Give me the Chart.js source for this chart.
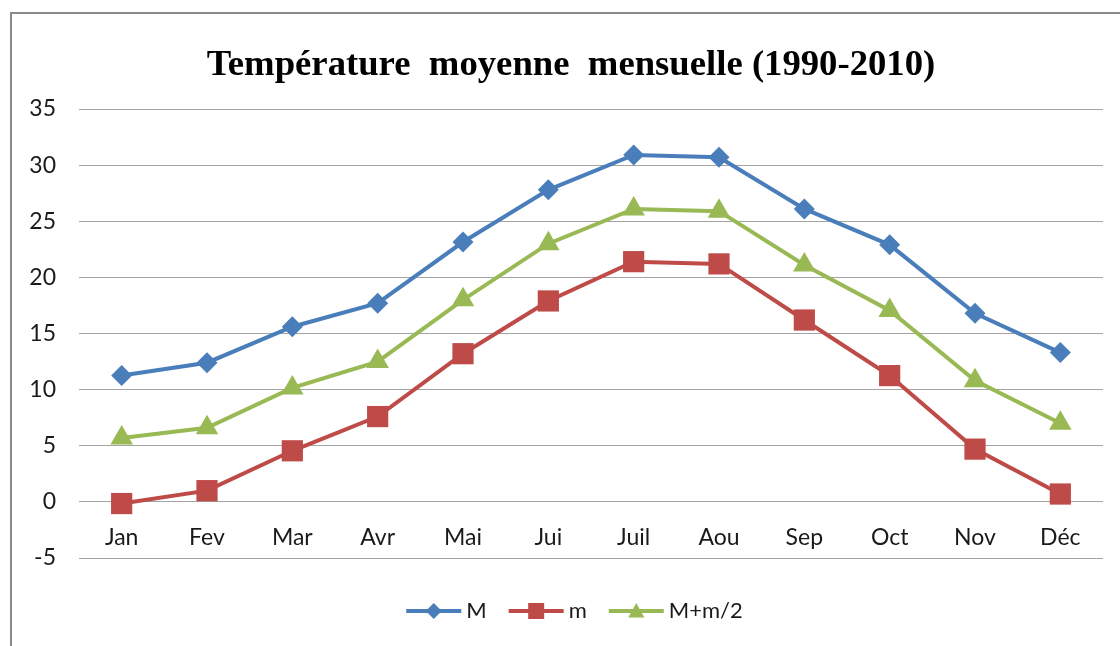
<!DOCTYPE html>
<html>
<head>
<meta charset="utf-8">
<script src="https://cdn.jsdelivr.net/npm/chart.js@4"></script>
<style>
  html, body { margin: 0; padding: 0; background: #fff; }
</style>
</head>
<body>
<canvas id="TempChart" width="1120" height="646"></canvas>
<script>
var mois = ['Jan', 'Fev', 'Mar', 'Avr', 'Mai', 'Jui', 'Juil', 'Aou', 'Sep', 'Oct', 'Nov', 'Déc'];
var tempMax = [11.25, 12.4, 15.6, 17.7, 23.15, 27.8, 30.9, 30.7, 26.1, 22.9, 16.8, 13.3];
var tempMin = [-0.15, 1.0, 4.55, 7.6, 13.2, 17.9, 21.4, 21.2, 16.2, 11.25, 4.7, 0.7];
var tempMoy = [5.7, 6.6, 10.15, 12.5, 18.0, 23.0, 26.1, 25.9, 21.1, 17.05, 10.8, 7.0];
var yMin = -5, yMax = 35, yStep = 5;
var titre = 'Température  moyenne  mensuelle (1990-2010)';

var fontTicks = 'Lato, "Open Sans", sans-serif';

// cadre gris + titre (centré comme dans Excel, pas sur la zone du canvas)
var cadre = {
  id: 'cadre',
  beforeDraw: function(chart) {
    var ctx = chart.ctx;
    ctx.save();
    ctx.fillStyle = '#fff';
    ctx.fillRect(0, 0, chart.width, chart.height);
    ctx.strokeStyle = '#8a8a8a';
    ctx.lineWidth = 2;
    ctx.strokeRect(11, 13, chart.width + 20, chart.height + 20);
    ctx.fillStyle = '#000';
    ctx.font = 'bold 36.7px "Liberation Serif", "Times New Roman", serif';
    ctx.textAlign = 'center';
    ctx.textBaseline = 'alphabetic';
    ctx.fillText(titre, 571, 75);
    ctx.restore();
  }
};

// legende facon Excel : trait + marqueur
function marqueur(ctx, style, x, y, r) {
  ctx.beginPath();
  if (style === 'rectRot') {
    ctx.moveTo(x, y - r); ctx.lineTo(x + r, y); ctx.lineTo(x, y + r); ctx.lineTo(x - r, y);
  } else if (style === 'rect') {
    ctx.rect(x - r, y - r, 2 * r, 2 * r);
  } else {
    ctx.moveTo(x, y - r); ctx.lineTo(x + r, y + r * 0.8); ctx.lineTo(x - r, y + r * 0.8);
  }
  ctx.closePath();
  ctx.fill();
}

var legende = {
  id: 'legende',
  afterDraw: function(chart) {
    var ctx = chart.ctx;
    var sets = chart.data.datasets;
    var trait = 55, ecartTxt = 5, ecartItem = 22;
    ctx.save();
    ctx.font = '22px ' + fontTicks;
    var total = 0;
    sets.forEach(function(ds, i) {
      total += trait + ecartTxt + ctx.measureText(ds.label).width + (i ? ecartItem : 0);
    });
    var x = 574.5 - total / 2, y = 611;
    sets.forEach(function(ds) {
      ctx.strokeStyle = ds.borderColor;
      ctx.fillStyle = ds.borderColor;
      ctx.lineWidth = 4;
      ctx.beginPath();
      ctx.moveTo(x, y); ctx.lineTo(x + trait, y);
      ctx.stroke();
      marqueur(ctx, ds.pointStyle, x + trait / 2, y, 8);
      ctx.fillStyle = '#1a1a1a';
      ctx.textBaseline = 'middle';
      ctx.textAlign = 'left';
      ctx.fillText(ds.label, x + trait + ecartTxt, y);
      x += trait + ecartTxt + ctx.measureText(ds.label).width + ecartItem;
    });
    ctx.restore();
  }
};

var ctx = document.getElementById('TempChart').getContext('2d');
var config = {
  type: 'line',
  data: {
    labels: mois,
    datasets: [{
      label: 'M',
      data: tempMax,
      borderColor: '#4a7ebb',
      backgroundColor: '#4a7ebb',
      pointStyle: 'rectRot',
      pointRadius: 10.5
    }, {
      label: 'm',
      data: tempMin,
      borderColor: '#be4b48',
      backgroundColor: '#be4b48',
      pointStyle: 'rect',
      pointRadius: 15
    }, {
      label: 'M+m/2',
      data: tempMoy,
      borderColor: '#98b954',
      backgroundColor: '#98b954',
      pointStyle: 'triangle',
      pointRadius: 13
    }]
  },
  options: {
    responsive: false,
    animation: false,
    elements: {
      line: { borderWidth: 4, tension: 0 },
      point: { borderWidth: 0, hoverRadius: 10 }
    },
    layout: { padding: { left: 0, right: 17, top: 109, bottom: 88 } },
    plugins: {
      legend: { display: false },
      tooltip: { enabled: false },
      title: { display: false }
    },
    scales: {
      x: {
        position: { y: 0 },
        offset: true,
        grid: { display: false },
        border: { display: false },
        ticks: { color: '#1a1a1a', font: { family: fontTicks, size: 23 }, padding: 14, maxRotation: 0 },
        afterFit: function(scale) { scale.height = 0; }
      },
      y: {
        min: yMin,
        max: yMax,
        ticks: { stepSize: yStep, color: '#1a1a1a', font: { family: fontTicks, size: 23 }, padding: 23 },
        grid: { color: '#a3a3a3', lineWidth: 1, drawTicks: false },
        border: { display: false },
        afterFit: function(scale) { scale.width = 79; }
      }
    }
  },
  plugins: [cadre, legende]
};

var chart = new Chart(ctx, config);
</script>
</body>
</html>
